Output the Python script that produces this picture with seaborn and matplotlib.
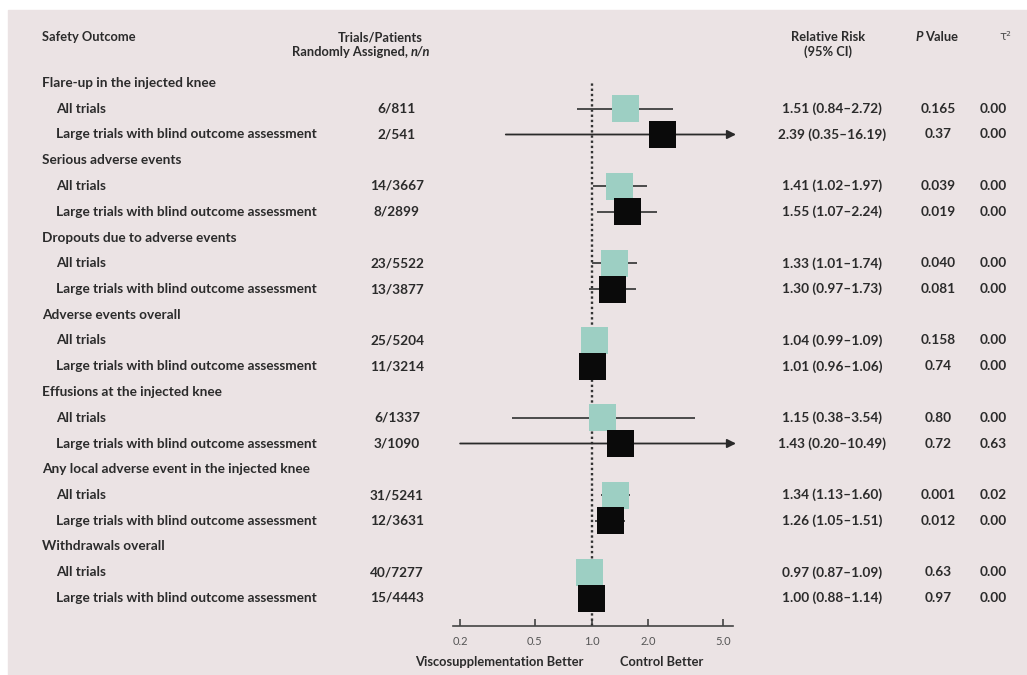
import numpy as np
import pandas as pd
import matplotlib
matplotlib.use("Agg")
import matplotlib.pyplot as plt
import matplotlib.transforms as mtrans
from matplotlib.patches import Rectangle
import seaborn as sns

# ---------------- data ----------------
groups = ["Flare-up in the injected knee", "Serious adverse events",
          "Dropouts due to adverse events", "Adverse events overall",
          "Effusions at the injected knee",
          "Any local adverse event in the injected knee", "Withdrawals overall"]
sub_labels = ["All trials", "Large trials with blind outcome assessment"]
n_all = ["6/811", "14/3667", "23/5522", "25/5204", "6/1337", "31/5241", "40/7277"]
n_large = ["2/541", "8/2899", "13/3877", "11/3214", "3/1090", "12/3631", "15/4443"]
rr_all = [1.51, 1.41, 1.33, 1.04, 1.15, 1.34, 0.97]
lo_all = [0.84, 1.02, 1.01, 0.99, 0.38, 1.13, 0.87]
hi_all = [2.72, 1.97, 1.74, 1.09, 3.54, 1.60, 1.09]
rr_large = [2.39, 1.55, 1.30, 1.01, 1.43, 1.26, 1.00]
lo_large = [0.35, 1.07, 0.97, 0.96, 0.20, 1.05, 0.88]
hi_large = [16.19, 2.24, 1.73, 1.06, 10.49, 1.51, 1.14]
p_all = ["0.165", "0.039", "0.040", "0.158", "0.80", "0.001", "0.63"]
p_large = ["0.37", "0.019", "0.081", "0.74", "0.72", "0.012", "0.97"]
tau_all = ["0.00", "0.00", "0.00", "0.00", "0.00", "0.02", "0.00"]
tau_large = ["0.00", "0.00", "0.00", "0.00", "0.63", "0.00", "0.00"]
xticks = [0.2, 0.5, 1.0, 2.0, 5.0]
xtick_labels = ["0.2", "0.5", "1.0", "2.0", "5.0"]

# ---------------- style ----------------
sns.set_theme(style="white")
plt.rcParams["font.family"] = ["Lato", "DejaVu Sans"]
TXT = "#2b2b2b"
TEAL = "#9dcfc3"
BLACK = "#0a0a0a"
BG = "#ebe3e4"
FS = 9.8
HFS = 9.3

W, H = 1027, 675
fig = plt.figure(figsize=(W / 100, H / 100), dpi=100)
fig.patch.set_facecolor("white")
fig.patches.append(Rectangle((8 / W, 0), 1 - 8 / W, 1 - 10 / H,
                             transform=fig.transFigure, color=BG, zorder=-10))

# row layout (row index r -> pixel y = Y0 + DY*r)
Y0, DY = 83.0, 25.75
ax_top_px, ax_bot_px = 82, 626
ax_left_px, ax_right_px = 453, 733
ax = fig.add_axes([ax_left_px / W, 1 - ax_bot_px / H,
                   (ax_right_px - ax_left_px) / W, (ax_bot_px - ax_top_px) / H])
ax.set_facecolor("none")
r_top = (ax_top_px - Y0) / DY
r_bot = (ax_bot_px - Y0) / DY
ax.set_xscale("log")
c1, ppd = 591.5, 188.0
xmin = 10 ** ((ax_left_px - c1) / ppd)
xmax = 10 ** ((ax_right_px - c1) / ppd)
x_arrow = 10 ** ((736 - c1) / ppd)
ax.set_xlim(xmin, xmax)
ax.set_ylim(r_bot, r_top)

# build table
rows = []
for g in range(len(groups)):
    base = 3 * g
    rows.append(dict(row=base + 1, kind="all", rr=rr_all[g], lo=lo_all[g], hi=hi_all[g],
                     n=n_all[g], p=p_all[g], tau=tau_all[g], label=sub_labels[0]))
    rows.append(dict(row=base + 2, kind="large", rr=rr_large[g], lo=lo_large[g], hi=hi_large[g],
                     n=n_large[g], p=p_large[g], tau=tau_large[g], label=sub_labels[1]))
df = pd.DataFrame(rows)

# dotted reference line
ax.axvline(1.0, color="#333333", lw=1.7, linestyle=(0, (1, 1.2)), zorder=1)

# CI lines
for _, d in df.iterrows():
    if d.hi > xmax:
        ax.annotate("", xy=(x_arrow, d.row), xytext=(d.lo, d.row),
                    arrowprops=dict(arrowstyle="-|>", color="#2a2a2a", lw=1.3,
                                    mutation_scale=13, shrinkA=0, shrinkB=0),
                    annotation_clip=False, zorder=2)
    else:
        ax.hlines(d.row, d.lo, d.hi, color="#4a4a4a", lw=1.4, zorder=2)

# squares
side_pt = 27 * 72 / 100
sns.scatterplot(data=df, x="rr", y="row", hue="kind", palette={"all": TEAL, "large": BLACK},
                marker="s", s=side_pt ** 2, linewidth=0, legend=False, ax=ax, zorder=3)
ax.set_xlabel("")
ax.set_ylabel("")
ax.set_ylim(r_bot, r_top)

# axis styling
for s in ["top", "right", "left"]:
    ax.spines[s].set_visible(False)
ax.spines["bottom"].set_color("#444444")
ax.spines["bottom"].set_linewidth(1.2)
ax.set_yticks([])
ax.set_xticks(xticks)
ax.set_xticklabels(xtick_labels)
ax.xaxis.set_minor_locator(matplotlib.ticker.NullLocator())
ax.tick_params(axis="x", direction="in", length=5, width=1.2, color="#444444",
               labelsize=8, labelcolor="#555555", pad=7, bottom=True)

# ---------------- texts ----------------
tr = mtrans.blended_transform_factory(fig.transFigure, ax.transData)

def px(x):
    return x / W

def py(y):
    return 1 - y / H

# header
fig.text(px(42), py(37), "Safety Outcome", fontsize=HFS, fontweight="bold", color=TXT, va="center")
fig.text(px(380), py(37), "Trials/Patients", fontsize=HFS, fontweight="bold", color=TXT,
         va="center", ha="center")
fig.text(px(408), py(52), "Randomly Assigned,", fontsize=HFS, fontweight="bold", color=TXT,
         va="center", ha="right")
fig.text(px(411), py(52), "n/n", fontsize=HFS, fontweight="bold", style="italic", color=TXT,
         va="center", ha="left")
fig.text(px(828), py(37), "Relative Risk", fontsize=HFS, fontweight="bold", color=TXT,
         va="center", ha="center")
fig.text(px(828), py(52), "(95% CI)", fontsize=HFS, fontweight="bold", color=TXT,
         va="center", ha="center")
fig.text(px(915), py(37), "P", fontsize=HFS, fontweight="bold", style="italic", color=TXT,
         va="center", ha="left")
fig.text(px(925), py(37), "Value", fontsize=HFS, fontweight="bold", color=TXT,
         va="center", ha="left")
fig.text(px(1005), py(37), "τ²", fontsize=8.5, color="#555555", va="center", ha="center",
         family=["DejaVu Sans"])

for g, name in enumerate(groups):
    ax.text(px(42), 3 * g, name, transform=tr, fontsize=FS, fontweight="bold", color=TXT,
            va="center", ha="left")

for _, d in df.iterrows():
    ax.text(px(56), d.row, d.label, transform=tr, fontsize=FS, fontweight="bold",
            color=TXT, va="center", ha="left")
    ax.text(px(397), d.row, d.n, transform=tr, fontsize=FS, fontweight="bold",
            color=TXT, va="center", ha="center")
    ci = f"{d.rr:.2f} ({d.lo:.2f}\u2013{d.hi:.2f})"
    ax.text(px(832), d.row, ci, transform=tr, fontsize=FS, fontweight="bold",
            color=TXT, va="center", ha="center")
    ax.text(px(938), d.row, d.p, transform=tr, fontsize=FS, fontweight="bold",
            color=TXT, va="center", ha="center")
    ax.text(px(993), d.row, d.tau, transform=tr, fontsize=FS, fontweight="bold",
            color=TXT, va="center", ha="center")

fig.text(px(584), py(662), "Viscosupplementation Better", fontsize=HFS, fontweight="bold",
         color=TXT, va="center", ha="right")
fig.text(px(620), py(662), "Control Better", fontsize=HFS, fontweight="bold",
         color=TXT, va="center", ha="left")

fig.savefig("out.png", dpi=100, facecolor=fig.get_facecolor())
